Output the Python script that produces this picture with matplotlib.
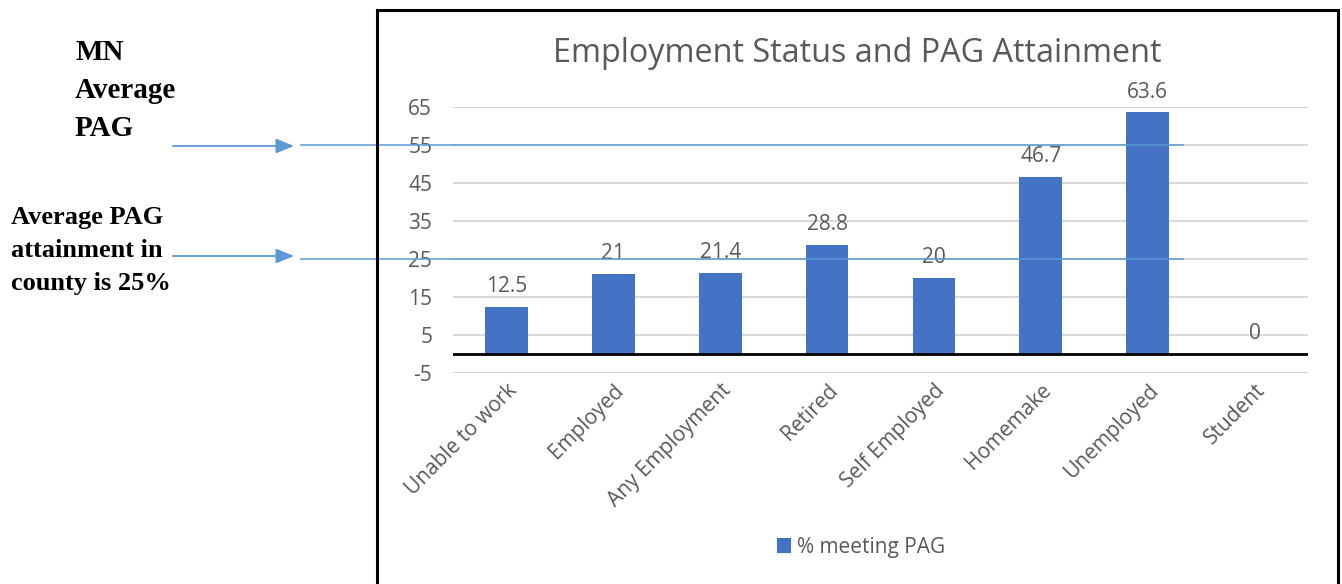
import matplotlib
matplotlib.use('Agg')
import matplotlib.pyplot as plt
import matplotlib.transforms as mtransforms
from matplotlib.patches import Rectangle, FancyArrowPatch

# Dados de atingimento das diretrizes (PAG) por situação de emprego
categorias = ['Unable to work', 'Employed', 'Any Employment', 'Retired',
              'Self Employed', 'Homemake', 'Unemployed', 'Student']
percentuais = [12.5, 21, 21.4, 28.8, 20, 46.7, 63.6, 0]
rotulos = ['12.5', '21', '21.4', '28.8', '20', '46.7', '63.6', '0']
marcas_y = [-5, 5, 15, 25, 35, 45, 55, 65]

media_mn = 55
media_condado = 25

AZUL = '#4472C4'
AZUL_SETA = '#5B9BD5'
CINZA = '#595959'
FONTE = 'Open Sans'
TAM = 15

W, H = 1342, 584
fig = plt.figure(figsize=(W / 100, H / 100), dpi=100)

def px(x, y):
    # converte pixels (origem no canto superior esquerdo) para fração da figura
    return x / W, 1 - y / H

ax = fig.add_axes([453 / W, 1 - 373 / H, (1308 - 453) / W, (373 - 107) / H])

x = list(range(len(categorias)))
barras = ax.bar(x, percentuais, width=0.4, color=AZUL, zorder=3,
                label='% meeting PAG')

for barra, rotulo in zip(barras, rotulos):
    ax.annotate(rotulo, (barra.get_x() + barra.get_width() / 2, barra.get_height()),
                xytext=(0, 7), textcoords='offset points', ha='center', va='bottom',
                fontsize=TAM, color=CINZA, family=FONTE)

ax.set_xlim(-0.5, len(categorias) - 0.5)
ax.set_ylim(-5, 65)
ax.set_yticks(marcas_y)
ax.set_yticklabels([str(v) for v in marcas_y], fontsize=TAM, color=CINZA, family=FONTE)
ax.set_xticks(x)
ax.set_xticklabels(categorias, rotation=45, ha='right', va='top',
                   rotation_mode='anchor', fontsize=TAM, color=CINZA, family=FONTE)
ax.tick_params(axis='both', length=0)
ax.tick_params(axis='y', pad=15)
ax.tick_params(axis='x', pad=5)
ax.grid(axis='y', color='#D9D9D9', linewidth=1.5, zorder=0)
for lado in ax.spines.values():
    lado.set_visible(False)
ax.axhline(0, color='black', linewidth=2, zorder=4)

fig.text(*px(857, 53), 'Employment Status and PAG Attainment', ha='center', va='center',
         fontsize=23.3, color=CINZA, family=FONTE)

fig.legend(handles=[barras], labels=['% meeting PAG'], loc='center',
           bbox_to_anchor=px(861, 547), frameon=False,
           prop={'family': FONTE, 'size': TAM}, handlelength=0.7, handleheight=0.7,
           handletextpad=0.3, labelcolor=CINZA)

# Moldura do gráfico
fig.patches.append(Rectangle(px(377, 700), (1338 - 377) / W, (700 - 10) / H,
                             transform=fig.transFigure, fill=False,
                             edgecolor='black', linewidth=2.2))

# Textos laterais em negrito
fig.text(*px(75, 39), 'MN\nAverage\nPAG', ha='left', va='top', fontsize=21,
         fontweight='bold', family='Liberation Serif', linespacing=1.52)
fig.text(*px(11, 206), 'Average PAG\nattainment in\ncounty is 25%', ha='left', va='top',
         fontsize=19, fontweight='bold', family='Liberation Serif', linespacing=1.55)

# Setas apontando para as linhas de referência
for y_seta in (146, 256):
    fig.patches.append(
        FancyArrowPatch(px(173, y_seta), px(294, y_seta), transform=fig.transFigure,
                        arrowstyle='-|>,head_length=11,head_width=4.5',
                        color=AZUL_SETA, linewidth=1.3, shrinkA=0, shrinkB=0))

# Linhas horizontais das médias (MN e condado)
misto = mtransforms.blended_transform_factory(fig.transFigure, ax.transData)
for valor in (media_mn, media_condado):
    ax.plot([301 / W, 1183 / W], [valor, valor], transform=misto, color=AZUL_SETA,
            linewidth=1.1, clip_on=False, zorder=5)

fig.savefig('out.png', dpi=100)
